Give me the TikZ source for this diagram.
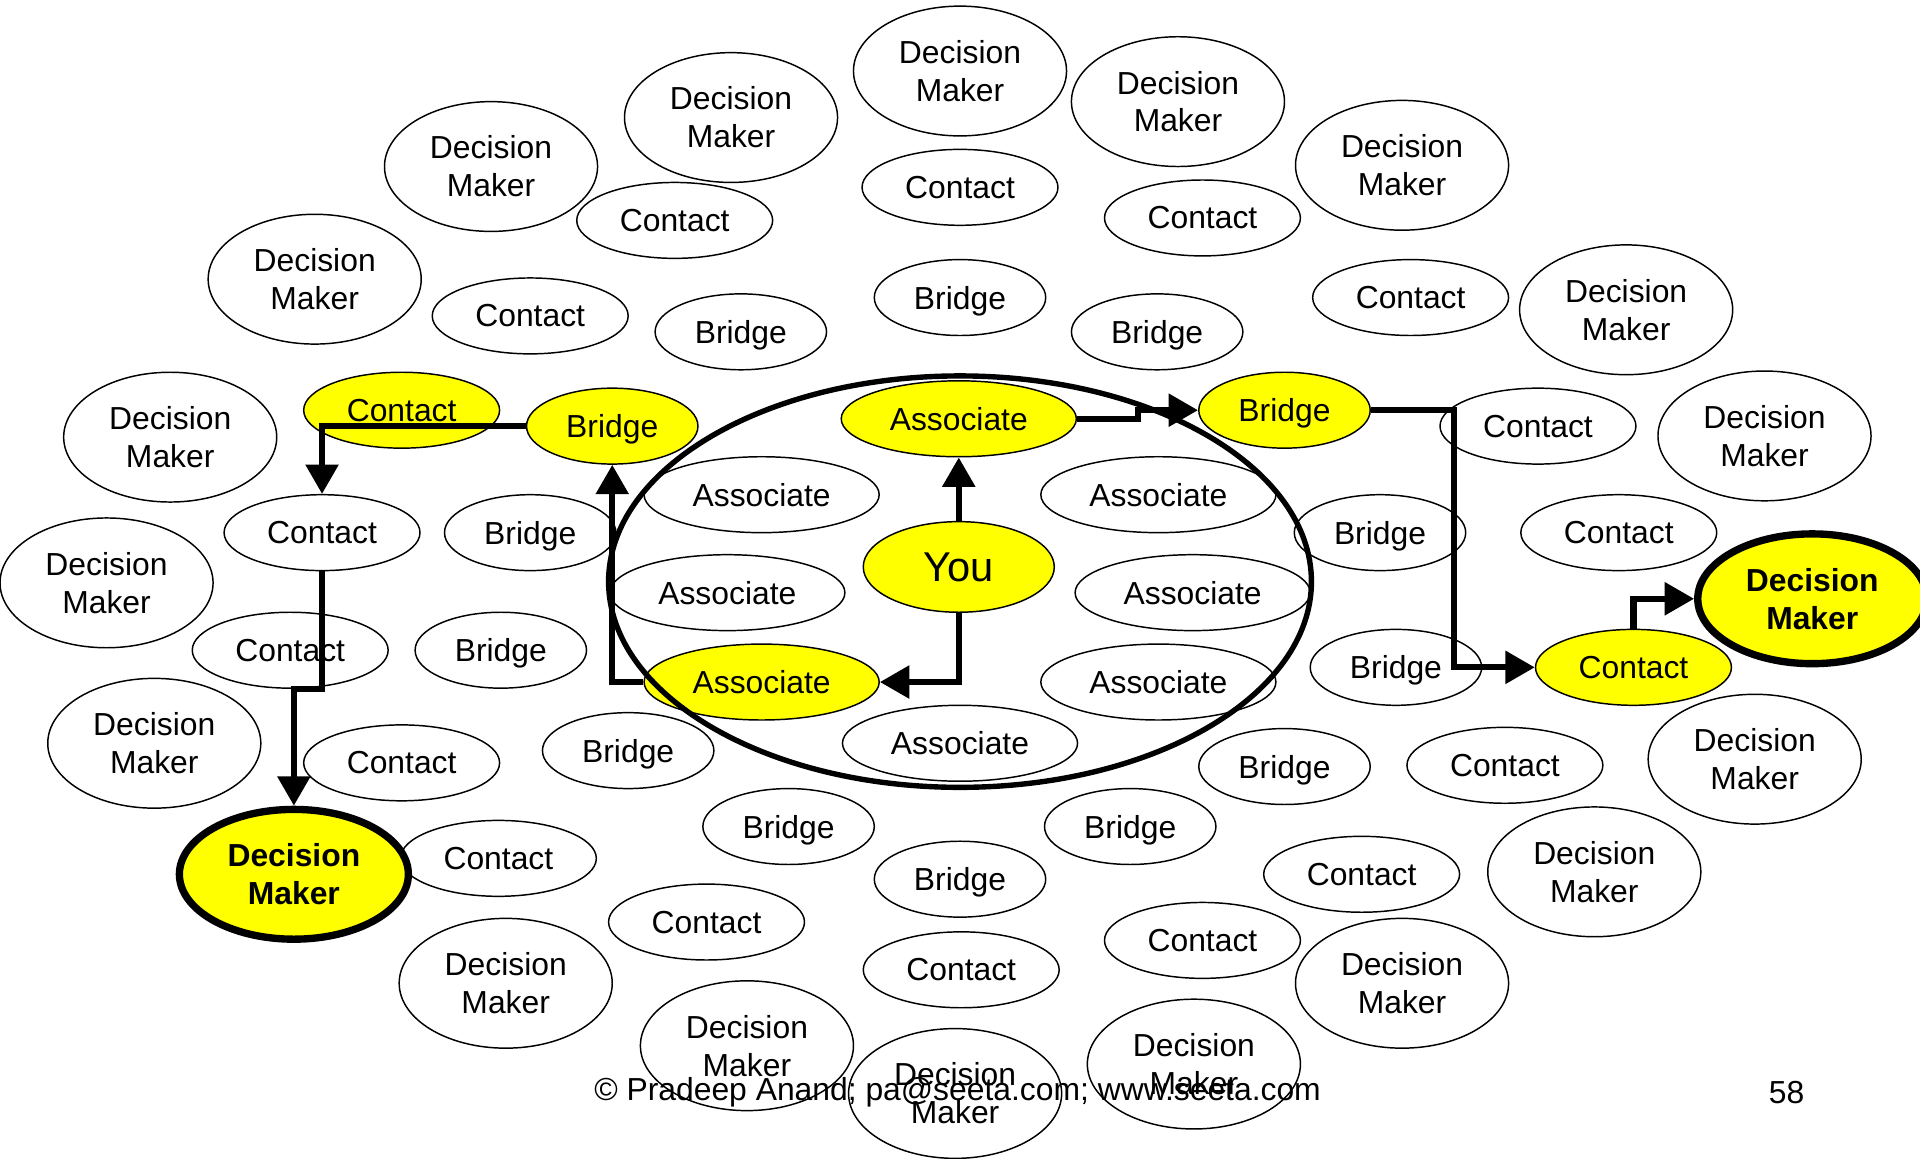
\documentclass[tikz,border=0pt]{standalone}
\usepackage{fontspec}
\setmainfont{Liberation Sans}
\usetikzlibrary{shapes.geometric,arrows.meta}
\definecolor{hilite}{RGB}{255,255,0}
\tikzset{
  ov/.style={ellipse, draw, line width=0.6pt, inner sep=0pt, align=center,
             font=\fontsize{13}{15.5}\selectfont},
  dmk/.style={ov, minimum width=87pt, minimum height=53pt},
  ctc/.style={ov, minimum width=80pt, minimum height=31pt},
  brg/.style={ov, minimum width=70pt, minimum height=31pt, text depth=0pt},
  asc/.style={ov, minimum width=96pt, minimum height=31pt},
  hl/.style={fill=hilite},
  goal/.style={ov, fill=hilite, line width=3pt, minimum width=93.5pt, minimum height=53pt,
               font=\fontsize{13}{15.5}\selectfont\bfseries},
  conn/.style={line width=2.5pt, -{Triangle[length=12pt,width=13pt]}},
  foot/.style={font=\fontsize{13}{15.5}\selectfont}
}
\begin{document}
\begin{tikzpicture}[x=0.5pt,y=-0.5pt]
\path[use as bounding box] (0,0) rectangle (1568,946);
\clip (0,0) rectangle (1568,946);

% decision makers
\node[dmk] (d1)  at (597,96)   {Decision\\Maker};
\node[dmk] (d2)  at (784,58)   {Decision\\Maker};
\node[dmk] (d3)  at (962,83)   {Decision\\Maker};
\node[dmk] (d4)  at (401,136)  {Decision\\Maker};
\node[dmk] (d5)  at (1145,135) {Decision\\Maker};
\node[dmk] (d6)  at (257,228)  {Decision\\Maker};
\node[dmk] (d7)  at (1328,253) {Decision\\Maker};
\node[dmk] (d8)  at (139,357)  {Decision\\Maker};
\node[dmk] (d9)  at (1441,356) {Decision\\Maker};
\node[dmk] (d10) at (87,476)   {Decision\\Maker};
\node[dmk] (d11) at (126,607)  {Decision\\Maker};
\node[dmk] (d12) at (1433,620) {Decision\\Maker};
\node[dmk] (d13) at (1302,712) {Decision\\Maker};
\node[dmk] (d14) at (413,803)  {Decision\\Maker};
\node[dmk] (d15) at (1145,803) {Decision\\Maker};
\node[dmk] (d16) at (610,854)  {Decision\\Maker};
\node[dmk] (d17) at (975,869)  {Decision\\Maker};
\node[dmk] (d18) at (780,893)  {Decision\\Maker};

% contacts
\node[ctc] (c1)  at (551,180)  {Contact};
\node[ctc] (c2)  at (784,153)  {Contact};
\node[ctc] (c3)  at (982,178)  {Contact};
\node[ctc] (c4)  at (433,258)  {Contact};
\node[ctc] (c5)  at (1152,243) {Contact};
\node[ctc,hl] (c6) at (328,335) {Contact};
\node[ctc] (c7)  at (1256,348) {Contact};
\node[ctc] (c8)  at (263,435)  {Contact};
\node[ctc] (c9)  at (1322,435) {Contact};
\node[ctc] (c10) at (237,531)  {Contact};
\node[ctc,hl] (c11) at (1334,545) {Contact};
\node[ctc] (c12) at (328,623)  {Contact};
\node[ctc] (c13) at (1229,625) {Contact};
\node[ctc] (c14) at (407,701)  {Contact};
\node[ctc] (c15) at (1112,714) {Contact};
\node[ctc] (c16) at (577,753)  {Contact};
\node[ctc] (c17) at (982,768)  {Contact};
\node[ctc] (c18) at (785,792)  {Contact};

% bridges
\node[brg] (b1)  at (605,271)  {Bridge};
\node[brg] (b2)  at (784,243)  {Bridge};
\node[brg] (b3)  at (945,271)  {Bridge};
\node[brg,hl] (b4) at (500,348) {Bridge};
\node[brg,hl] (b5) at (1049,335) {Bridge};
\node[brg] (b6)  at (433,435)  {Bridge};
\node[brg] (b7)  at (1127,435) {Bridge};
\node[brg] (b8)  at (409,531)  {Bridge};
\node[brg] (b9)  at (1140,545) {Bridge};
\node[brg] (b10) at (513,613)  {Bridge};
\node[brg] (b11) at (1049,626) {Bridge};
\node[brg] (b12) at (644,675)  {Bridge};
\node[brg] (b13) at (923,675)  {Bridge};
\node[brg] (b14) at (784,718)  {Bridge};

% associates
\node[asc,hl] (a1) at (783,342) {Associate};
\node[asc] (a2) at (622,404) {Associate};
\node[asc] (a3) at (946,404) {Associate};
\node[asc] (a4) at (594,484) {Associate};
\node[asc] (a5) at (974,484) {Associate};
\node[asc,hl] (a6) at (622,557) {Associate};
\node[asc] (a7) at (946,557) {Associate};
\node[asc] (a8) at (784,607) {Associate};

% centre
\node[ov,hl,minimum width=78pt,minimum height=37pt,font=\fontsize{17}{20}\selectfont] (you) at (783,463) {You};

% target decision makers
\node[goal] (dmL) at (240,714)  {Decision\\Maker};
\node[goal] (dmR) at (1480,489) {Decision\\Maker};

% circle of associates
\node[draw, ellipse, line width=2.2pt, minimum width=287pt, minimum height=168pt] (ring) at (784,475) {};

% paths through the network
\draw[conn] (you.north) -- (a1.south);
\draw[conn] (you.south) |- (a6.east);
\draw[conn] (a6.west) -| (b4.south);
\draw[conn] (a1.east) -- ++(50,0) |- (b5.west);
\draw[conn] (b5.east) -- ++(68,0) |- (c11.west);
\draw[conn] (c11.north) |- (dmR.west);
\draw[conn] (b4.west) -| (c8.north);
\draw[conn] (c8.south) -- ++(0,96) -| (dmL.north);

% footer
\node[foot] (credit) at (782,892) {© Pradeep Anand; pa@seeta.com; www.seeta.com};
\node[foot] (page) at (1459,892) {58};
\end{tikzpicture}
\end{document}
